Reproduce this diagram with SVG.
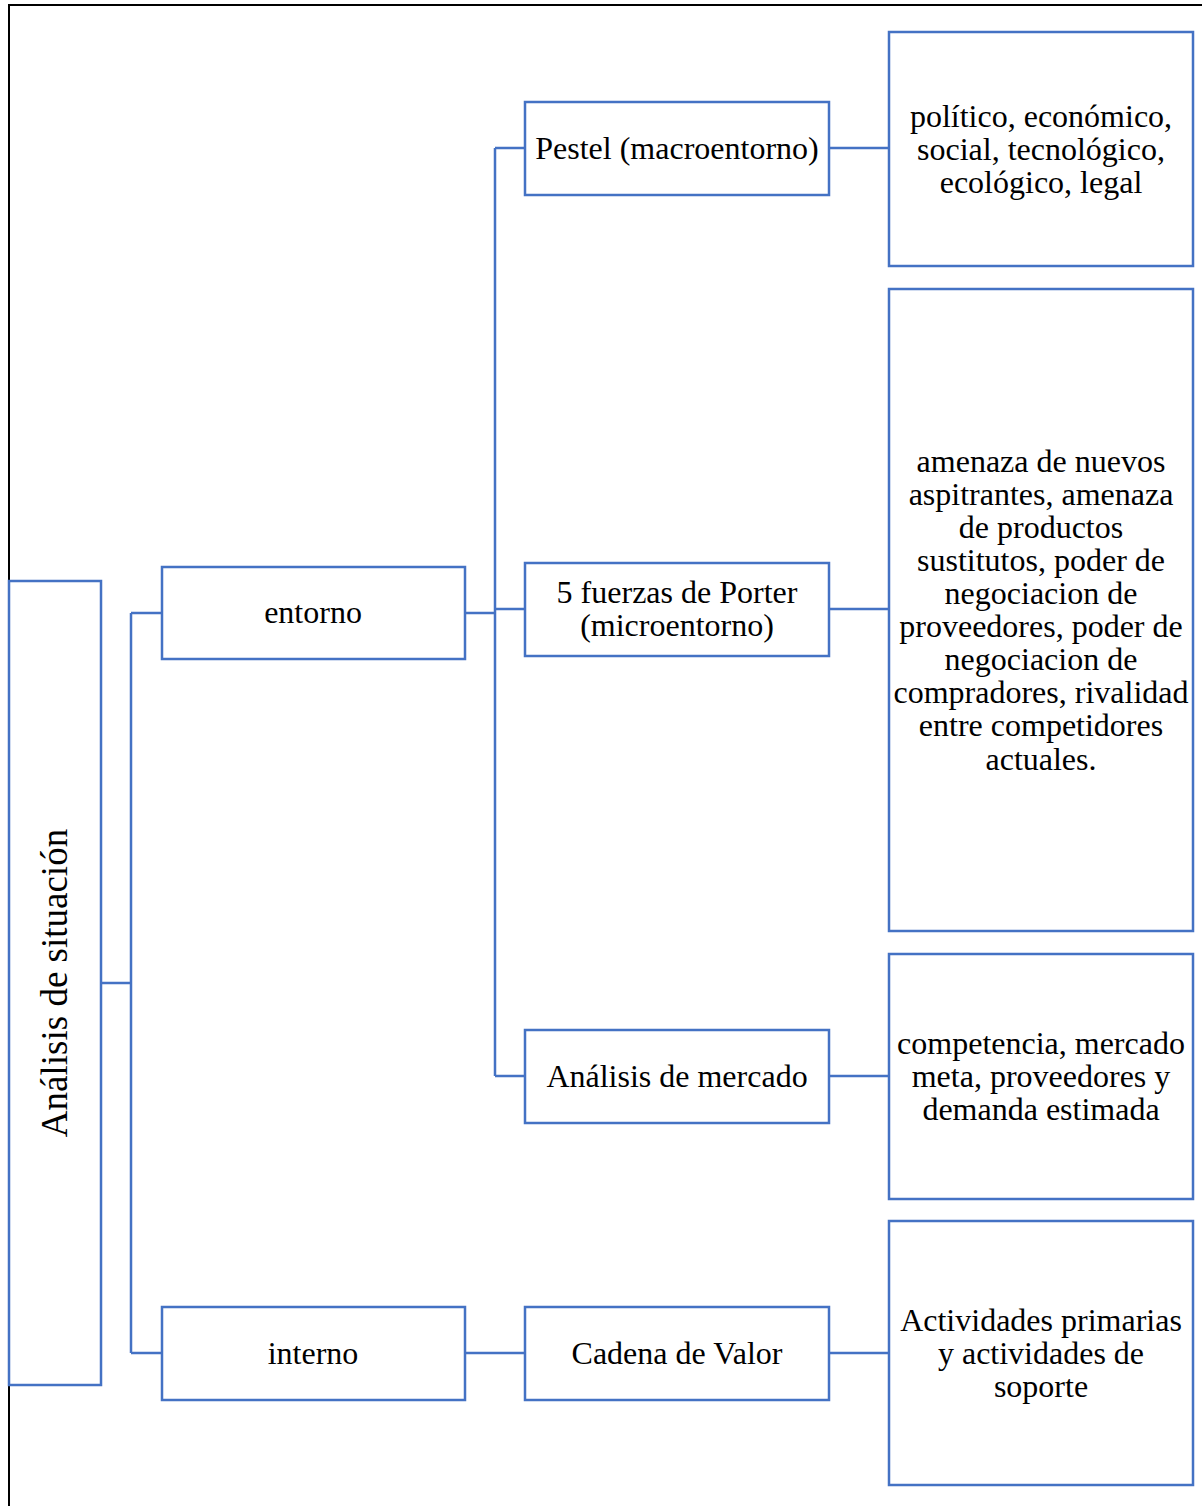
<svg xmlns="http://www.w3.org/2000/svg" width="1202" height="1506" viewBox="0 0 1202 1506">
<style>
.box{fill:#fff;stroke:#4472C4;stroke-width:2.5}
.ln{fill:none;stroke:#4472C4;stroke-width:2.5}
text{font-family:"Liberation Serif","Times New Roman",serif;font-size:32px;fill:#000;text-anchor:middle}
</style>
<rect width="1202" height="1506" fill="#fff"/>
<path d="M9 1506 V5 H1202" fill="none" stroke="#000" stroke-width="2"/>
<g id="connectors">
<path class="ln" d="M101 983 H131 M131 613 V1353 M131 613 H162 M131 1353 H162"/>
<path class="ln" d="M465 613 H495 M495 148 V1076 M495 148 H525 M495 609 H525 M495 1076 H525"/>
<path class="ln" d="M465 1353 H525"/>
<path class="ln" d="M829 148 H889 M829 609 H889 M829 1076 H889 M829 1353 H889"/>
</g>
<g id="root">
<rect class="box" x="9" y="581" width="92" height="804"/>
<text transform="translate(55 983) rotate(-90)" y="12" style="font-size:37px">Análisis de situación</text>
</g>
<g id="entorno">
<rect class="box" x="162" y="567" width="303" height="92"/>
<text x="313" y="623">entorno</text>
</g>
<g id="interno">
<rect class="box" x="162" y="1307" width="303" height="93"/>
<text x="313" y="1364">interno</text>
</g>
<g id="pestel">
<rect class="box" x="525" y="102" width="304" height="93"/>
<text x="677" y="159">Pestel (macroentorno)</text>
</g>
<g id="porter">
<rect class="box" x="525" y="563" width="304" height="93"/>
<text x="677" y="603">5 fuerzas de Porter</text>
<text x="677" y="636">(microentorno)</text>
</g>
<g id="mercado">
<rect class="box" x="525" y="1030" width="304" height="93"/>
<text x="677" y="1087">Análisis de mercado</text>
</g>
<g id="cadena">
<rect class="box" x="525" y="1307" width="304" height="93"/>
<text x="677" y="1364">Cadena de Valor</text>
</g>
<g id="pestel-detail">
<rect class="box" x="889" y="32" width="304" height="234"/>
<text x="1041" y="127">político, económico,</text>
<text x="1041" y="160">social, tecnológico,</text>
<text x="1041" y="193">ecológico, legal</text>
</g>
<g id="porter-detail">
<rect class="box" x="889" y="289" width="304" height="642"/>
<text x="1041" y="472">amenaza de nuevos</text>
<text x="1041" y="505">aspitrantes, amenaza</text>
<text x="1041" y="538">de productos</text>
<text x="1041" y="571">sustitutos, poder de</text>
<text x="1041" y="604">negociacion de</text>
<text x="1041" y="637">proveedores, poder de</text>
<text x="1041" y="670">negociacion de</text>
<text x="1041" y="703">compradores, rivalidad</text>
<text x="1041" y="736">entre competidores</text>
<text x="1041" y="770">actuales.</text>
</g>
<g id="mercado-detail">
<rect class="box" x="889" y="954" width="304" height="245"/>
<text x="1041" y="1054">competencia, mercado</text>
<text x="1041" y="1087">meta, proveedores y</text>
<text x="1041" y="1120">demanda estimada</text>
</g>
<g id="cadena-detail">
<rect class="box" x="889" y="1221" width="304" height="264"/>
<text x="1041" y="1331">Actividades primarias</text>
<text x="1041" y="1364">y actividades de</text>
<text x="1041" y="1397">soporte</text>
</g>
</svg>
